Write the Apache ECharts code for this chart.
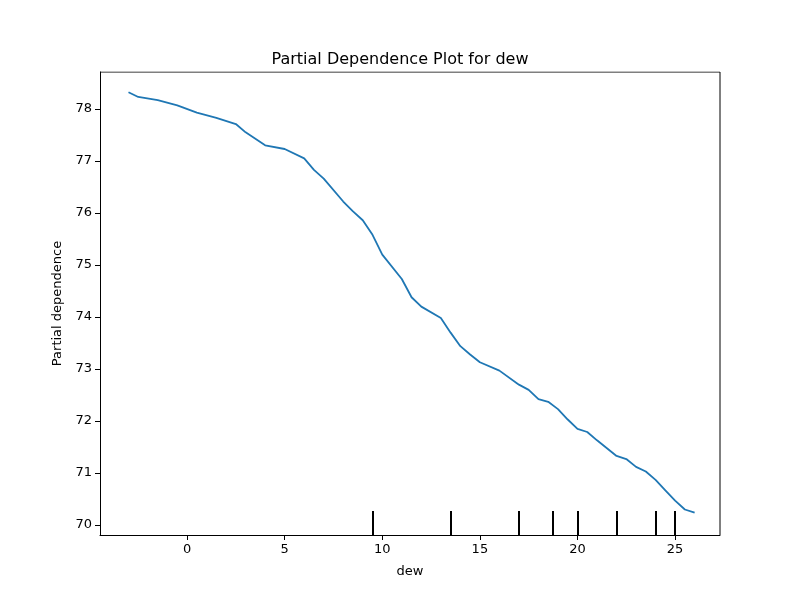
<!DOCTYPE html>
<html>
<head>
<meta charset="utf-8">
<script src="https://cdn.jsdelivr.net/npm/echarts@6/dist/echarts.min.js"></script>
<style>html,body{margin:0;background:#fff}#chart{width:800px;height:600px}</style>
</head>
<body>
<div id="chart"></div>
<script>
const dew = [-3, -2.5, -1.5, -0.5, 0.5, 1.5, 2.5, 3, 4, 5, 6, 6.5, 7, 8, 8.5, 9, 9.5, 10, 11, 11.5, 12, 13, 13.5, 14, 14.5, 15, 16, 17, 17.5, 18, 18.5, 19, 19.5, 20, 20.5, 21, 22, 22.5, 23, 23.5, 24, 24.5, 25, 25.5, 26];
const pd = [78.32, 78.23, 78.17, 78.07, 77.93, 77.83, 77.71, 77.55, 77.30, 77.23, 77.05, 76.83, 76.66, 76.22, 76.03, 75.86, 75.58, 75.20, 74.73, 74.38, 74.20, 73.98, 73.70, 73.44, 73.28, 73.13, 72.97, 72.70, 72.60, 72.42, 72.37, 72.23, 72.03, 71.85, 71.79, 71.63, 71.33, 71.27, 71.12, 71.03, 70.87, 70.67, 70.47, 70.30, 70.24];
const rug = [9.5, 13.5, 17, 18.75, 20, 22, 24, 25];
const xTicks = [0, 5, 10, 15, 20, 25];
const yTicks = [70, 71, 72, 73, 74, 75, 76, 77, 78];

const yMin = 69.81, yMax = 78.71;
const font = 'DejaVu Sans';

const chart = echarts.init(document.getElementById('chart'));
chart.setOption({
  animation: false,
  title: { text: 'Partial Dependence Plot for dew', left: 'center', top: 47,
    textStyle: { fontFamily: font, fontSize: 16, fontWeight: 'normal', color: '#000' } },
  grid: { left: 100, right: 80, top: 72, bottom: 65 },
  xAxis: {
    type: 'value', min: -4.46, max: 27.3,
    name: 'dew', nameLocation: 'middle', nameGap: 30,
    nameTextStyle: { fontFamily: font, fontSize: 13, color: '#000' },
    axisLine: { onZero: false, lineStyle: { color: '#000' } },
    axisTick: { show: true, length: 5, customValues: xTicks, lineStyle: { color: '#000' } },
    axisLabel: { customValues: xTicks, fontFamily: font, fontSize: 13, color: '#000' },
    splitLine: { show: false }
  },
  yAxis: {
    type: 'value', min: yMin, max: yMax,
    name: 'Partial dependence', nameLocation: 'middle', nameGap: 35,
    nameTextStyle: { fontFamily: font, fontSize: 13, color: '#000' },
    axisLine: { show: true, onZero: false, lineStyle: { color: '#000' } },
    axisTick: { show: true, length: 5, inside: false, customValues: yTicks, lineStyle: { color: '#000' } },
    axisLabel: { customValues: yTicks, fontFamily: font, fontSize: 13, color: '#000' },
    splitLine: { show: false }
  },
  series: [
    {
      type: 'line', data: dew.map((d, i) => [d, pd[i]]),
      showSymbol: false, lineStyle: { color: '#1f77b4', width: 1.8 }, itemStyle: { color: '#1f77b4' },
      markLine: {
        symbol: 'none', silent: true, label: { show: false },
        lineStyle: { color: '#000', width: 2, type: 'solid' },
        data: rug.map(r => [{ coord: [r, yMin] }, { coord: [r, 70.27] }])
      }
    },
    // box border on top/right
    {
      type: 'line', data: [[-4.46, yMax], [27.3, yMax], [27.3, yMin]],
      showSymbol: false, silent: true, lineStyle: { color: '#000', width: 1 }
    }
  ]
});
</script>
</body>
</html>
